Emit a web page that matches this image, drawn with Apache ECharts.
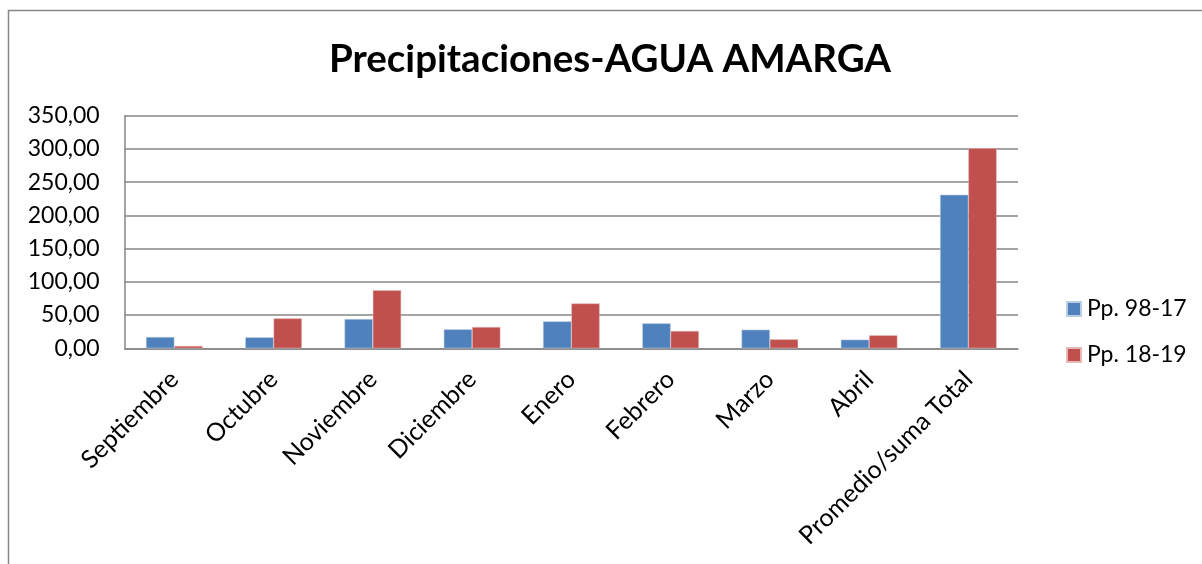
<!DOCTYPE html>
<html>
<head>
<meta charset="utf-8">
<script src="https://cdn.jsdelivr.net/npm/echarts@6/dist/echarts.min.js"></script>
<style>
html,body{margin:0;padding:0;background:#fff;}
#c{width:1202px;height:564px;}
</style>
</head>
<body>
<div id="c"></div>
<script>
const categories = ['Septiembre','Octubre','Noviembre','Diciembre','Enero','Febrero','Marzo','Abril','Promedio/suma Total'];
const seriesNames = ['Pp. 98-17','Pp. 18-19'];
const pp9817 = [17, 16.5, 44, 28.5, 40.5, 37.5, 28, 13, 231];
const pp1819 = [3.5, 45, 87.5, 32, 67.5, 26, 13.5, 19.5, 301];
const yTicks = [0, 50, 100, 150, 200, 250, 300, 350];

const FONT = 'Lato, "Open Sans", sans-serif';
const chart = echarts.init(document.getElementById('c'), null, {renderer: 'canvas'});
chart.setOption({
  animation: false,
  backgroundColor: '#fff',
  title: {
    text: 'Precipitaciones-AGUA AMARGA',
    left: 605, top: 35, textAlign: 'center',
    textStyle: {fontFamily: FONT, fontSize: 38.5, fontWeight: 'bold', color: '#000'}
  },
  graphic: [{
    type: 'rect', silent: true, z: -1,
    shape: {x: 8.5, y: 10.5, width: 1300, height: 700},
    style: {fill: 'none', stroke: '#878787', lineWidth: 1.5}
  }],
  legend: {
    orient: 'vertical', left: 1061, top: 292,
    itemWidth: 14, itemHeight: 14, itemGap: 22,
    icon: 'rect',
    textStyle: {fontFamily: FONT, fontSize: 23, lineHeight: 24, color: '#000', padding: [0, 0, 0, 1]},
    data: seriesNames
  },
  grid: {left: 124.7, right: 184, top: 115.7, bottom: 215.7, containLabel: false},
  xAxis: {
    type: 'category', data: categories,
    axisLine: {lineStyle: {color: '#868686', width: 1.5}},
    axisTick: {show: false},
    axisLabel: {rotate: 45, margin: 27, interval: 0, fontFamily: FONT, fontSize: 25, color: '#000'}
  },
  yAxis: {
    type: 'value', min: yTicks[0], max: yTicks[yTicks.length - 1], interval: 50,
    axisLine: {show: true, lineStyle: {color: '#868686', width: 1.5}},
    axisTick: {show: false},
    splitLine: {lineStyle: {color: '#868686', width: 1.5}},
    axisLabel: {margin: 25, fontFamily: FONT, fontSize: 23, color: '#000',
      formatter: v => v.toFixed(2).replace('.', ',')}
  },
  series: [
    {name: seriesNames[0], type: 'bar', data: pp9817, barGap: '0%', barCategoryGap: '43%',
      itemStyle: {color: '#4F81BD', borderColor: '#B9CDE5', borderWidth: 0.5}},
    {name: seriesNames[1], type: 'bar', data: pp1819, barGap: '0%', barCategoryGap: '43%',
      itemStyle: {color: '#C0504D', borderColor: '#E6B9B8', borderWidth: 0.5}}
  ]
});
</script>
</body>
</html>
